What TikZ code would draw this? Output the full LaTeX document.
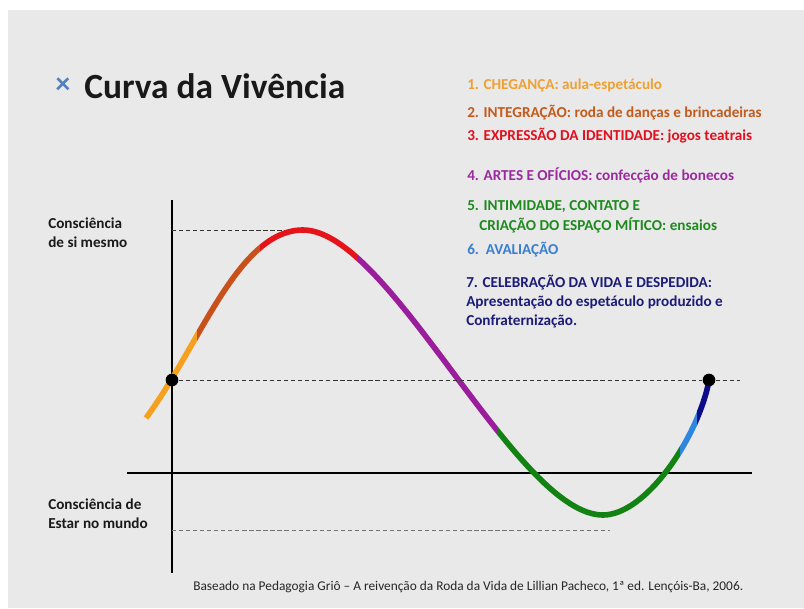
\documentclass[tikz,border=0pt]{standalone}
\usepackage{fontspec}
\setmainfont{Carlito}
\usetikzlibrary{positioning}
\definecolor{bgcol}{HTML}{E9E9E9}
\definecolor{cOrange}{HTML}{F5A01E}
\definecolor{cBrown}{HTML}{C8501A}
\definecolor{cRed}{HTML}{E5141B}
\definecolor{cPurple}{HTML}{9A1E9C}
\definecolor{cGreen}{HTML}{128312}
\definecolor{cLblue}{HTML}{2F86DE}
\definecolor{cDblue}{HTML}{0C0C8A}
\definecolor{tOrange}{HTML}{F0A030}
\definecolor{tBrown}{HTML}{C55A1A}
\definecolor{tRed}{HTML}{E0101E}
\definecolor{tPurple}{HTML}{9B2A9E}
\definecolor{tGreen}{HTML}{1E8A1E}
\definecolor{tBlue}{HTML}{3A7ED0}
\definecolor{tNavy}{HTML}{1C1C78}
\definecolor{bullet}{HTML}{4F81BD}
\newcommand{\vivcurve}{(146,418) .. controls (200,345) and (238,230) .. (303,230)
  .. controls (390,230) and (516,515) .. (603,515)
  .. controls (645,515) and (697,440) .. (709,381)}
\tikzset{
  lbl/.style={inner sep=0pt, anchor=west, font=\bfseries\fontsize{10.8}{13.5}\selectfont},
  curve/.style={line width=4pt},
  guide/.style={dashed, dash pattern=on 3pt off 2pt, line width=0.6pt},
  axis/.style={line width=1.4pt},
  dot/.style={circle, fill=black, minimum size=9pt, inner sep=0pt}
}

\begin{document}
\begin{tikzpicture}[x=0.025cm, y=-0.025cm]
\useasboundingbox (0,0) rectangle (804,608);
\fill[white] (0,0) rectangle (804,608);
\fill[bgcol] (8,10) rectangle (804,608);

% title
\node[text=bullet, inner sep=0pt, font=\bfseries\fontsize{21}{21}\selectfont] (mark) at (63,86) {×};
\node[inner sep=0pt, anchor=west, text=black!90, font=\bfseries\fontsize{25.2}{25}\selectfont] (title) at (84,86) {Curva da Vivência};

% list of stages
\node[lbl, text=tOrange] (it1) at (467,85) {1. CHEGANÇA: aula-espetáculo};
\node[lbl, text=tBrown] (it2) at (467,113) {2. INTEGRAÇÃO: roda de danças e brincadeiras};
\node[lbl, text=tRed] (it3) at (467,136) {3. EXPRESSÃO DA IDENTIDADE: jogos teatrais};
\node[lbl, text=tPurple] (it4) at (467,175) {4. ARTES E OFÍCIOS: confecção de bonecos};
\node[lbl, text=tGreen] (it5a) at (467,207) {5. INTIMIDADE, CONTATO E};
\node[lbl, text=tGreen] (it5b) at (479,225) {CRIAÇÃO DO ESPAÇO MÍTICO: ensaios};
\node[lbl, text=tBlue] (it6) at (467,250) {6.\ \ AVALIAÇÃO};
\node[lbl, text=tNavy, anchor=north west, align=left] (it7) at (466,275) {7. CELEBRAÇÃO DA VIDA E DESPEDIDA:\\Apresentação do espetáculo produzido e\\Confraternização.};

% axes labels
\node[lbl, align=left, text=black!90] (self) at (48,233) {Consciência\\de si mesmo};
\node[lbl, align=left, text=black!90] (world) at (48,514) {Consciência de\\Estar no mundo};

% axes
\coordinate (ytop) at (172,200);
\coordinate (ybot) at (172,573);
\coordinate (xleft) at (127,473);
\coordinate (xright) at (752,473);
\draw[axis] (ytop) -- (ybot);
\draw[axis] (xleft) -- (xright);

% guide lines
\coordinate (gtop) at (172,230);
\coordinate (peak) at (303,230);
\coordinate (gbot) at (172,530);
\coordinate (low) at (610,530);
\coordinate (gend) at (740,380);
\draw[guide, black!80] (gtop) -- (peak);
\draw[guide, black!55] (gbot) -- (low);

% coloured curve
\foreach \xa/\xb/\col in {0/197/cOrange, 197/260/cBrown, 260/358/cRed, 358/498/cPurple,
  498/680/cGreen, 680/697/cLblue, 697/800/cDblue}{
  \begin{scope}
    \clip (\xa,0) rectangle (\xb,608);
    \draw[curve, \col] \vivcurve;
  \end{scope}
}

\node[dot] (start) at (172,380) {};
\node[dot] (finish) at (709,380) {};
\draw[guide, black!80] (start) -- (finish) -- (gend);

% source
\node[inner sep=0pt, anchor=west, text=black!85, font=\fontsize{9.5}{10}\selectfont] (src) at (193,587)
  {Baseado na Pedagogia Griô – A reivenção da Roda da Vida de Lillian Pacheco, 1ª ed. Lençóis-Ba, 2006.};
\end{tikzpicture}
\end{document}
